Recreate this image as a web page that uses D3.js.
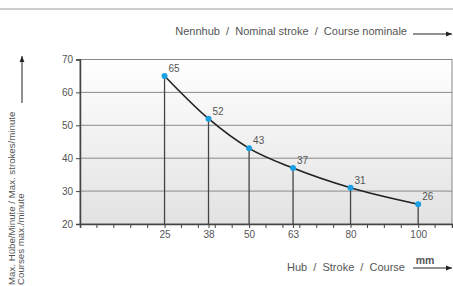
<!DOCTYPE html>
<html>
<head>
<meta charset="utf-8">
<script src="https://cdn.jsdelivr.net/npm/d3@7"></script>
<style>
body { margin: 0; background: #fff; }
text { font-family: "Liberation Sans", Arial, sans-serif; fill: #555; }
</style>
</head>
<body>
<script>
var width = 453;
var height = 286;

// data
var strokes = [25, 38, 50, 63, 80, 100];
var rates = [65, 52, 43, 37, 31, 26];
var yTicks = [20, 30, 40, 50, 60, 70];
var xMinorTicks = [5, 10, 15, 20, 30, 35, 40, 45, 55, 60, 65, 70, 75, 85, 90, 95, 105];

var svg = d3.select("body").append("svg")
            .attr("width", width)
            .attr("height", height);

var x = d3.scaleLinear().domain([0, 110]).range([80, 452]);
var y = d3.scaleLinear().domain([20, 70]).range([224, 59.5]);

var defs = svg.append("defs");
var grad = defs.append("linearGradient")
               .attr("id", "bg")
               .attr("x1", 0).attr("y1", 0).attr("x2", 0).attr("y2", 1);
grad.append("stop").attr("offset", "0%").attr("stop-color", "#ffffff");
grad.append("stop").attr("offset", "100%").attr("stop-color", "#e2e2e2");

// top separator
svg.append("line")
   .attr("x1", 0).attr("x2", width)
   .attr("y1", 9).attr("y2", 9)
   .attr("stroke", "#999").attr("stroke-width", 1.2);

// plot background
svg.append("rect")
   .attr("x", x(0)).attr("y", y(70))
   .attr("width", x(110) - x(0))
   .attr("height", y(20) - y(70))
   .attr("fill", "url(#bg)")
   .attr("stroke", "#888");

// grid
svg.append("g").selectAll("line")
   .data(yTicks.slice(1, 5))
   .enter().append("line")
   .attr("x1", x(0)).attr("x2", x(110))
   .attr("y1", function(d) { return y(d); })
   .attr("y2", function(d) { return y(d); })
   .attr("stroke", "#8a8a8a");

// y axis
var yAxis = d3.axisLeft(y).tickValues(yTicks).tickSize(4).tickPadding(3);
var gy = svg.append("g").attr("transform", "translate(" + x(0) + ",0)").call(yAxis);
gy.select(".domain").attr("stroke", "#444").attr("stroke-width", 1.5);
gy.selectAll(".tick line").attr("stroke", "#444");
gy.selectAll("text").attr("font-size", 10).attr("fill", "#555")
  .attr("font-family", "Liberation Sans, Arial, sans-serif");

// x axis
var xAxis = d3.axisBottom(x).tickValues(strokes).tickSize(4).tickPadding(3);
var gx = svg.append("g").attr("transform", "translate(0," + y(20) + ")").call(xAxis);
gx.select(".domain").attr("stroke", "#444").attr("stroke-width", 1.5);
gx.selectAll(".tick line").attr("stroke", "#444");
gx.selectAll("text").attr("font-size", 10).attr("fill", "#555")
  .attr("font-family", "Liberation Sans, Arial, sans-serif");

svg.append("g").selectAll("line")
   .data(xMinorTicks)
   .enter().append("line")
   .attr("x1", function(d) { return x(d); })
   .attr("x2", function(d) { return x(d); })
   .attr("y1", y(20)).attr("y2", y(20) + 4)
   .attr("stroke", "#444");

var pts = strokes.map(function(d, i) { return [d, rates[i]]; });

// droplines
svg.append("g").selectAll("line")
   .data(pts)
   .enter().append("line")
   .attr("x1", function(d) { return x(d[0]); })
   .attr("x2", function(d) { return x(d[0]); })
   .attr("y1", function(d) { return y(d[1]); })
   .attr("y2", y(20))
   .attr("stroke", "#444").attr("stroke-width", 1.3);

// curve
var line = d3.line()
             .x(function(d) { return x(d[0]); })
             .y(function(d) { return y(d[1]); })
             .curve(d3.curveMonotoneX);
svg.append("path")
   .datum(pts)
   .attr("d", line)
   .attr("fill", "none")
   .attr("stroke", "#222")
   .attr("stroke-width", 1.6);

svg.append("g").selectAll("circle")
   .data(pts)
   .enter().append("circle")
   .attr("cx", function(d) { return x(d[0]); })
   .attr("cy", function(d) { return y(d[1]); })
   .attr("r", 3)
   .attr("fill", "#1b9fe3");

svg.append("g").selectAll("text")
   .data(pts)
   .enter().append("text")
   .attr("x", function(d) { return x(d[0]) + 4; })
   .attr("y", function(d) { return y(d[1]) - 4; })
   .attr("font-size", 10)
   .text(function(d) { return d[1]; });

// arrows
defs.append("marker")
    .attr("id", "arr")
    .attr("viewBox", "0 0 10 10")
    .attr("refX", 10).attr("refY", 5)
    .attr("markerWidth", 6).attr("markerHeight", 6)
    .attr("markerUnits", "userSpaceOnUse")
    .attr("orient", "auto")
  .append("path")
    .attr("d", "M0,1L10,5L0,9Z")
    .attr("fill", "#222");

// top title
svg.append("text")
   .attr("x", 407).attr("y", 35)
   .attr("text-anchor", "end")
   .attr("font-size", 11)
   .style("white-space", "pre")
   .text("Nennhub  /  Nominal stroke  /  Course nominale");
svg.append("line")
   .attr("x1", 413).attr("x2", 452).attr("y1", 34).attr("y2", 34)
   .attr("stroke", "#222").attr("marker-end", "url(#arr)");

// bottom title
svg.append("text")
   .attr("x", 405).attr("y", 271)
   .attr("text-anchor", "end")
   .attr("font-size", 11)
   .style("white-space", "pre")
   .text("Hub  /  Stroke  /  Course");
svg.append("text")
   .attr("x", 425).attr("y", 264)
   .attr("text-anchor", "middle")
   .attr("font-size", 10.5)
   .attr("font-weight", "bold")
   .attr("fill", "#333")
   .text("mm");
svg.append("line")
   .attr("x1", 413).attr("x2", 452).attr("y1", 268).attr("y2", 268)
   .attr("stroke", "#222").attr("marker-end", "url(#arr)");

// y title
var yt = svg.append("text")
   .attr("transform", "translate(15,285) rotate(-90)")
   .attr("font-size", 9.7);
yt.append("tspan").attr("x", 0).attr("dy", 0).text("Max. Hübe/Minute / Max. strokes/minute");
yt.append("tspan").attr("x", 0).attr("dy", 8.5).text("Courses max./minute");
svg.append("line")
   .attr("x1", 22).attr("x2", 22).attr("y1", 103).attr("y2", 56)
   .attr("stroke", "#222").attr("marker-end", "url(#arr)");
</script>
</body>
</html>
